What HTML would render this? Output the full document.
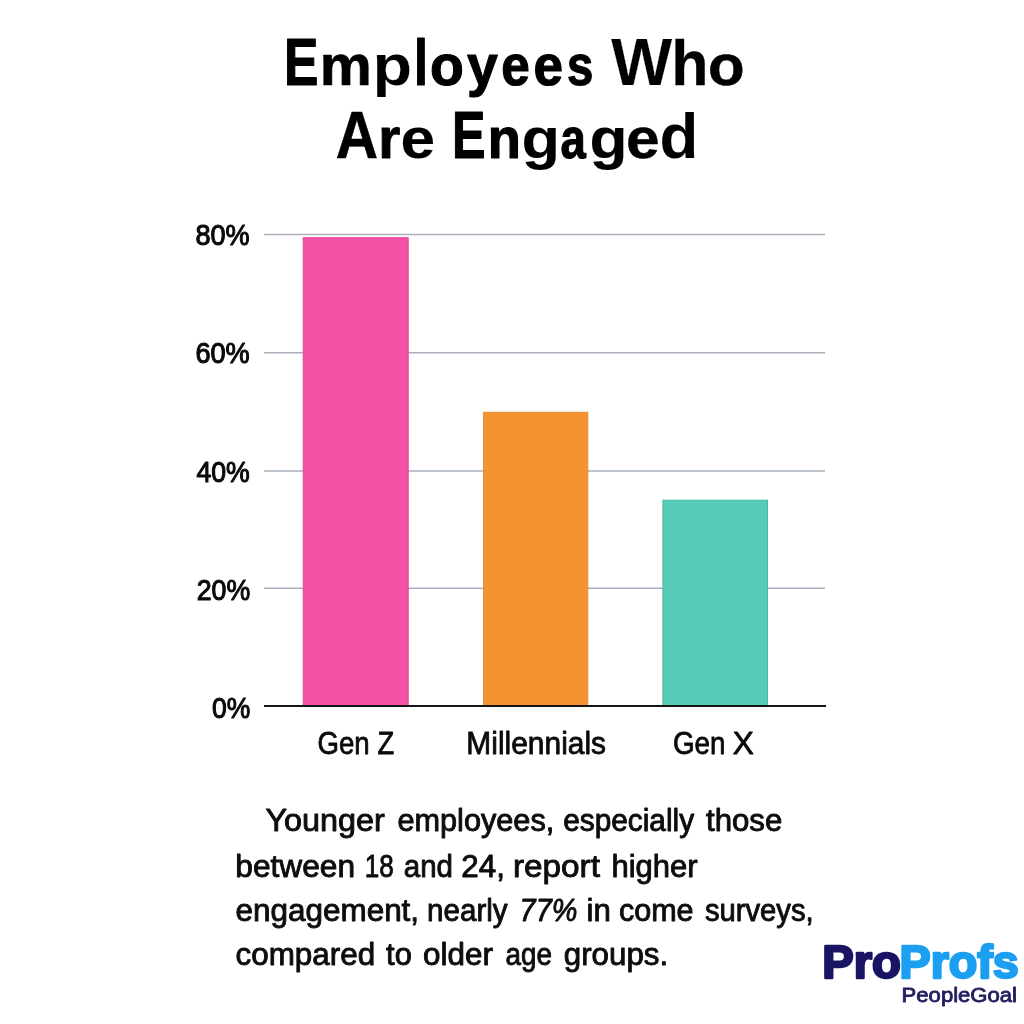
<!DOCTYPE html>
<html lang="en">
<head>
<meta charset="utf-8">
<title>Employees Who Are Engaged</title>
<style>
html,body{margin:0;padding:0;background:#fff;}
body{width:1024px;height:1024px;overflow:hidden;}
svg{display:block;}
text{font-family:"Liberation Sans",sans-serif;}
.tc{font-weight:bold;font-size:66px;fill:#000;stroke-linejoin:round;}
.tl{font-weight:bold;font-size:57px;fill:#000;stroke-linejoin:round;}
.ax{font-size:29.6px;fill:#0a0a0a;stroke:#0a0a0a;stroke-width:1.1px;stroke-linejoin:round;}
.cat{font-size:31.5px;fill:#0a0a0a;stroke:#0a0a0a;stroke-width:0.8px;stroke-linejoin:round;}
.p,.pi{font-size:31px;fill:#0d0d0d;stroke:#0d0d0d;stroke-width:0.9px;stroke-linejoin:round;}
.pi{font-style:italic;}
.lg1{font-weight:bold;font-size:46.5px;fill:#1a1464;stroke:#1a1464;stroke-width:2.5px;stroke-linejoin:round;}
.lg2{font-weight:bold;font-size:46.5px;fill:#1c9ff0;stroke:#1c9ff0;stroke-width:2.5px;stroke-linejoin:round;}
.pg{font-size:20.1px;fill:#232060;stroke:#232060;stroke-width:0.8px;stroke-linejoin:round;}
</style>
</head>
<body>
<svg width="1024" height="1024" viewBox="0 0 1024 1024">
<rect width="1024" height="1024" fill="#ffffff"/>
<!-- grid -->
<g stroke="#a9b0bb" stroke-width="1.5">
<line x1="264" y1="234.5" x2="825" y2="234.5"/>
<line x1="264" y1="352.8" x2="825" y2="352.8"/>
<line x1="264" y1="471" x2="825" y2="471"/>
<line x1="264" y1="588.3" x2="825" y2="588.3"/>
</g>
<!-- bars -->
<rect x="303.2" y="237.7" width="105" height="468.3" fill="#f352a6" stroke="#e3479a" stroke-width="1"/>
<rect x="483.6" y="412.3" width="104.2" height="293.7" fill="#f4932f" stroke="#e88a2b" stroke-width="1"/>
<rect x="662.9" y="500.2" width="104.6" height="205.8" fill="#58cbb7" stroke="#45bba5" stroke-width="1"/>
<line x1="264" y1="706" x2="826" y2="706" stroke="#151515" stroke-width="2.2"/>
<!-- text -->
<text y="84.9"><tspan class="tc" stroke="#000" stroke-width="1.20" x="284.1" textLength="34.4" lengthAdjust="spacingAndGlyphs">E</tspan><tspan class="tl" stroke="#000" stroke-width="0.69" x="319.8" textLength="52.0" lengthAdjust="spacingAndGlyphs">m</tspan><tspan class="tl" stroke="#fff" stroke-width="0.20" x="372.6" textLength="39.6" lengthAdjust="spacingAndGlyphs">p</tspan><tspan class="tl" stroke="#000" stroke-width="1.20" style="font-size:65px" x="413.9" textLength="13.9" lengthAdjust="spacingAndGlyphs">l</tspan><tspan class="tl" stroke="#000" stroke-width="1.15" x="429.9" textLength="33.8" lengthAdjust="spacingAndGlyphs">o</tspan><tspan class="tl" stroke="#000" stroke-width="1.14" x="467.0" textLength="30.8" lengthAdjust="spacingAndGlyphs">y</tspan><tspan class="tl" stroke="#000" stroke-width="1.20" x="501.3" textLength="28.5" lengthAdjust="spacingAndGlyphs">e</tspan><tspan class="tl" stroke="#000" stroke-width="1.20" x="533.5" textLength="29.5" lengthAdjust="spacingAndGlyphs">e</tspan><tspan class="tl" stroke="#000" stroke-width="1.20" x="566.9" textLength="26.3" lengthAdjust="spacingAndGlyphs">s</tspan> <tspan class="tc" stroke="#fff" stroke-width="0.21" x="611.0" textLength="61.2" lengthAdjust="spacingAndGlyphs">W</tspan><tspan class="tl" stroke="#000" stroke-width="0.44" style="font-size:63px" x="671.6" textLength="36.8" lengthAdjust="spacingAndGlyphs">h</tspan><tspan class="tl" stroke="#000" stroke-width="0.48" x="708.1" textLength="36.6" lengthAdjust="spacingAndGlyphs">o</tspan></text>
<text y="158.3"><tspan class="tc" stroke="#000" stroke-width="0.67" x="335.7" textLength="42.3" lengthAdjust="spacingAndGlyphs">A</tspan><tspan class="tl" stroke="#000" stroke-width="0.95" x="378.3" textLength="22.0" lengthAdjust="spacingAndGlyphs">r</tspan><tspan class="tl" stroke="#000" stroke-width="0.18" x="400.6" textLength="34.6" lengthAdjust="spacingAndGlyphs">e</tspan> <tspan class="tc" stroke="#000" stroke-width="1.20" x="452.1" textLength="33.5" lengthAdjust="spacingAndGlyphs">E</tspan><tspan class="tl" stroke="#000" stroke-width="1.20" x="487.7" textLength="33.1" lengthAdjust="spacingAndGlyphs">n</tspan><tspan class="tl" stroke="#000" stroke-width="0.02" x="521.6" textLength="38.6" lengthAdjust="spacingAndGlyphs">g</tspan><tspan class="tl" stroke="#000" stroke-width="1.20" x="560.6" textLength="25.3" lengthAdjust="spacingAndGlyphs">a</tspan><tspan class="tl" stroke="#000" stroke-width="0.17" x="589.6" textLength="38.0" lengthAdjust="spacingAndGlyphs">g</tspan><tspan class="tl" stroke="#000" stroke-width="0.42" x="625.9" textLength="33.6" lengthAdjust="spacingAndGlyphs">e</tspan><tspan class="tl" stroke="#fff" stroke-width="0.04" style="font-size:63px" x="659.5" textLength="38.9" lengthAdjust="spacingAndGlyphs">d</tspan></text>
<text y="245.4"><tspan class="ax" x="195.5" textLength="54.2" lengthAdjust="spacingAndGlyphs">80%</tspan></text>
<text y="363.3"><tspan class="ax" x="195.4" textLength="54.3" lengthAdjust="spacingAndGlyphs">60%</tspan></text>
<text y="482.3"><tspan class="ax" x="196.4" textLength="53.4" lengthAdjust="spacingAndGlyphs">40%</tspan></text>
<text y="600.4"><tspan class="ax" x="196.7" textLength="53.5" lengthAdjust="spacingAndGlyphs">20%</tspan></text>
<text y="718.2"><tspan class="ax" x="212.0" textLength="38.3" lengthAdjust="spacingAndGlyphs">0%</tspan></text>
<text y="754.0"><tspan class="cat" x="317.5" textLength="52.2" lengthAdjust="spacingAndGlyphs">Gen</tspan> <tspan class="cat" x="377.6" textLength="16.7" lengthAdjust="spacingAndGlyphs">Z</tspan></text>
<text y="754.0"><tspan class="cat" x="466.3" textLength="139.8" lengthAdjust="spacingAndGlyphs">Millennials</tspan></text>
<text y="754.0"><tspan class="cat" x="672.9" textLength="52.5" lengthAdjust="spacingAndGlyphs">Gen</tspan> <tspan class="cat" x="732.7" textLength="21.1" lengthAdjust="spacingAndGlyphs">X</tspan></text>
<text y="831.3"><tspan class="p" x="265.4" textLength="119.4" lengthAdjust="spacingAndGlyphs">Younger</tspan> <tspan class="p" x="397.4" textLength="156.9" lengthAdjust="spacingAndGlyphs">employees,</tspan> <tspan class="p" x="563.2" textLength="130.9" lengthAdjust="spacingAndGlyphs">especially</tspan> <tspan class="p" x="706.0" textLength="76.3" lengthAdjust="spacingAndGlyphs">those</tspan></text>
<text y="876.6"><tspan class="p" x="235.3" textLength="119.7" lengthAdjust="spacingAndGlyphs">between</tspan> <tspan class="p" x="364.8" textLength="29.0" lengthAdjust="spacingAndGlyphs">18</tspan> <tspan class="p" x="403.8" textLength="49.2" lengthAdjust="spacingAndGlyphs">and</tspan> <tspan class="p" x="461.3" textLength="43.6" lengthAdjust="spacingAndGlyphs">24,</tspan> <tspan class="p" x="512.9" textLength="87.0" lengthAdjust="spacingAndGlyphs">report</tspan> <tspan class="p" x="611.4" textLength="86.2" lengthAdjust="spacingAndGlyphs">higher</tspan></text>
<text y="920.6"><tspan class="p" x="235.5" textLength="183.6" lengthAdjust="spacingAndGlyphs">engagement,</tspan> <tspan class="p" x="427.1" textLength="80.5" lengthAdjust="spacingAndGlyphs">nearly</tspan> <tspan class="pi" x="519.6" textLength="57.7" lengthAdjust="spacingAndGlyphs">77%</tspan> <tspan class="p" x="586.5" textLength="24.3" lengthAdjust="spacingAndGlyphs">in</tspan> <tspan class="p" x="618.9" textLength="74.7" lengthAdjust="spacingAndGlyphs">come</tspan> <tspan class="p" x="704.9" textLength="108.8" lengthAdjust="spacingAndGlyphs">surveys,</tspan></text>
<text y="965.0"><tspan class="p" x="235.5" textLength="139.7" lengthAdjust="spacingAndGlyphs">compared</tspan> <tspan class="p" x="386.1" textLength="25.7" lengthAdjust="spacingAndGlyphs">to</tspan> <tspan class="p" x="423.1" textLength="69.8" lengthAdjust="spacingAndGlyphs">older</tspan> <tspan class="p" x="505.4" textLength="46.5" lengthAdjust="spacingAndGlyphs">age</tspan> <tspan class="p" x="563.8" textLength="104.3" lengthAdjust="spacingAndGlyphs">groups.</tspan></text>
<text y="978.3"><tspan class="lg1" x="822.3" textLength="78.5" lengthAdjust="spacingAndGlyphs">Pro</tspan><tspan class="lg2" x="899.6" textLength="119.2" lengthAdjust="spacingAndGlyphs">Profs</tspan></text>
<text y="1002.1"><tspan class="pg" x="901.6" textLength="115.4" lengthAdjust="spacingAndGlyphs">PeopleGoal</tspan></text>
</svg>
</body>
</html>
